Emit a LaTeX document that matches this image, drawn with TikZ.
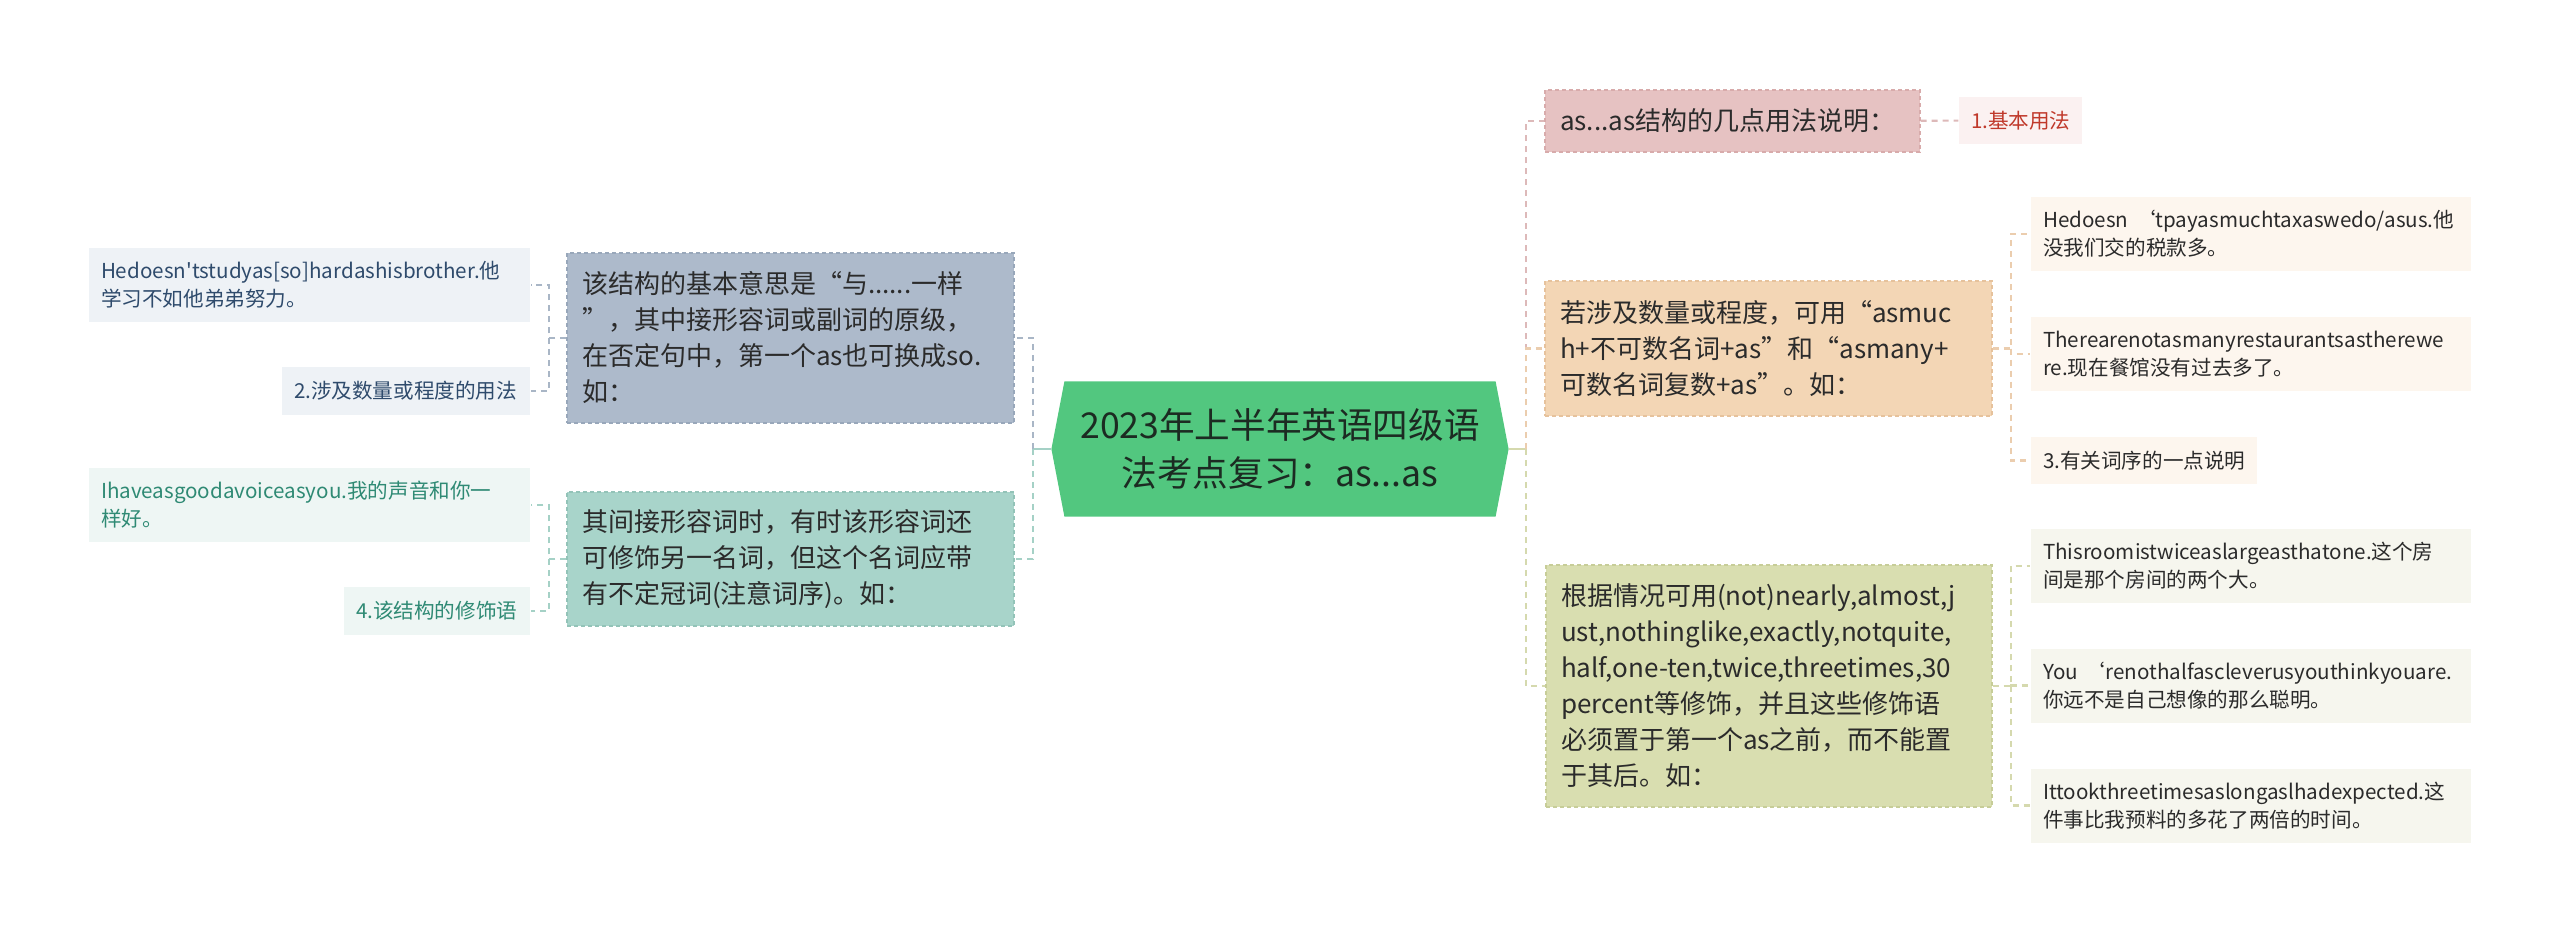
\documentclass[tikz,border=0pt]{standalone}
\usepackage{fontspec}
\setmainfont{Noto Sans CJK SC}[Ligatures=TeXOff]
\usepackage{xcolor}
\usepackage{tikz}
\usetikzlibrary{shapes,backgrounds}
\usetikzlibrary{arrows,positioning,calc}

\definecolor{topicfill}{HTML}{52C77F}
\definecolor{topictext}{HTML}{1C2B22}
\definecolor{bodytext}{HTML}{2B2B2B}
\definecolor{fillA}{HTML}{ADBACB}
\definecolor{edgeA}{HTML}{98A7BA}
\definecolor{fillB}{HTML}{A8D4CA}
\definecolor{edgeB}{HTML}{93C3B8}
\definecolor{fillC}{HTML}{E6C2C2}
\definecolor{edgeC}{HTML}{D8ABAB}
\definecolor{fillD}{HTML}{F3D6B5}
\definecolor{edgeD}{HTML}{E6C29C}
\definecolor{fillE}{HTML}{D9DEB0}
\definecolor{edgeE}{HTML}{C7CD98}
\definecolor{leafA}{HTML}{EEF2F6}
\definecolor{leafAtext}{HTML}{2F4B6C}
\definecolor{leafB}{HTML}{EEF6F4}
\definecolor{leafBtext}{HTML}{2F8A74}
\definecolor{leafC}{HTML}{FBF1F1}
\definecolor{leafCtext}{HTML}{C0392B}
\definecolor{leafD}{HTML}{FDF6EE}
\definecolor{leafE}{HTML}{F6F6EE}
\definecolor{lineA}{HTML}{A9B6C6}
\definecolor{lineB}{HTML}{A5D1C6}
\definecolor{lineC}{HTML}{DDB9B9}
\definecolor{lineD}{HTML}{EBCDAE}
\definecolor{lineE}{HTML}{D5D9AE}

\begin{document}
\begin{tikzpicture}[x=0.5pt,y=-0.5pt,semithick]

\tikzstyle{topic}=[rectangle, minimum width=215pt, minimum height=67pt, align=center,
text=topictext, font=\fontsize{17.8}{24}\selectfont]
\tikzstyle{branch}=[rectangle, align=left, inner xsep=7.5pt, text=bodytext,
dash pattern=on 2pt off 1.5pt, line width=0.6pt, font=\fontsize{13}{18}\selectfont]
\tikzstyle{leaf}=[rectangle, align=left, inner xsep=6pt, minimum height=37pt, text=bodytext,
font=\fontsize{10.3}{14}\selectfont]
\tikzstyle{link}=[dash pattern=on 3pt off 2.5pt, line width=1.1pt]

\useasboundingbox (0,0) rectangle (2560,933);

%centre
\node[topic]
(root) at (1280,449)
{2023年上半年英语四级语\\法考点复习：as...as};

\begin{scope}[on background layer]
\fill[topicfill] (root.north west) -- (root.north east) -- ($(root.east)+(13,0)$)
 -- (root.south east) -- (root.south west) -- ($(root.west)+(-13,0)$) -- cycle;
\end{scope}

\coordinate (lbus) at (1033,0);
\coordinate (rbus) at (1526,0);
\coordinate (lbus2) at (549,0);
\coordinate (rbus2) at (2011,0);

%left side
\node[branch,fill=fillA,draw=edgeA,text width=208.5pt,minimum height=85pt]
(lone) at (790.5,338)
{该结构的基本意思是“与......一样\\”，其中接形容词或副词的原级，\\在否定句中，第一个as也可换成so.\\如：};

\node[branch,fill=fillB,draw=edgeB,text width=208.5pt,minimum height=67pt]
(ltwo) at (790.5,559)
{其间接形容词时，有时该形容词还\\可修饰另一名词，但这个名词应带\\有不定冠词(注意词序)。如：};

\node[leaf,fill=leafA,text=leafAtext,text width=208.5pt]
(loneA) at (309.5,285)
{Hedoesn'tstudyas[so]hardashisbrother.他\\学习不如他弟弟努力。};

\node[leaf,fill=leafA,text=leafAtext,text width=112pt,minimum height=24pt]
(loneB) at (406,391)
{2.涉及数量或程度的用法};

\node[leaf,fill=leafB,text=leafBtext,text width=208.5pt]
(ltwoA) at (309.5,505)
{Ihaveasgoodavoiceasyou.我的声音和你一\\样好。};

\node[leaf,fill=leafB,text=leafBtext,text width=81pt,minimum height=24pt]
(ltwoB) at (437,611)
{4.该结构的修饰语};

%right side
\node[branch,fill=fillC,draw=edgeC,text width=172.5pt,minimum height=31pt]
(rone) at (1732.5,121)
{as...as结构的几点用法说明：};

\node[leaf,fill=leafC,text=leafCtext,text width=49.5pt,minimum height=23.5pt]
(roneA) at (2020.5,120.5)
{1.基本用法};

\node[branch,fill=fillD,draw=edgeD,text width=208.5pt,minimum height=67.5pt]
(rtwo) at (1768.5,348.5)
{若涉及数量或程度，可用“asmuc\\h+不可数名词+as”和“asmany+\\可数名词复数+as”。如：};

\node[branch,fill=fillE,draw=edgeE,text width=208pt,minimum height=121pt]
(rthree) at (1769,686)
{根据情况可用(not)nearly,almost,j\\ust,nothinglike,exactly,notquite,\\half,one-ten,twice,threetimes,30\\percent等修饰，并且这些修饰语\\必须置于第一个as之前，而不能置\\于其后。如：};

\node[leaf,fill=leafD,text width=208pt]
(rtwoA) at (2251,234)
{Hedoesn ‘tpayasmuchtaxaswedo/asus.他\\没我们交的税款多。};

\node[leaf,fill=leafD,text width=208pt]
(rtwoB) at (2251,354)
{Therearenotasmanyrestaurantsastherewe\\re.现在餐馆没有过去多了。};

\node[leaf,fill=leafD,text width=101pt,minimum height=23.5pt]
(rtwoC) at (2144,460.5)
{3.有关词序的一点说明};

\node[leaf,fill=leafE,text width=208pt]
(rthreeA) at (2251,566)
{Thisroomistwiceaslargeasthatone.这个房\\间是那个房间的两个大。};

\node[leaf,fill=leafE,text width=208pt]
(rthreeB) at (2251,685.5)
{You ‘renothalfascleverusyouthinkyouare.\\你远不是自己想像的那么聪明。};

\node[leaf,fill=leafE,text width=208pt]
(rthreeC) at (2251,805.5)
{Ittookthreetimesaslongaslhadexpected.这\\件事比我预料的多花了两倍的时间。};

%connectors
\draw[lineB,line width=1.1pt] ($(root.west)+(-13,0)$) -- (lbus |- root.west);
\draw[lineE,line width=1.1pt] ($(root.east)+(13,0)$) -- (rbus |- root.east);

\draw[link,lineA] (lbus |- root.west) |- (lone.east);
\draw[link,lineB] (lbus |- root.west) |- (ltwo.east);
\draw[link,lineA] (lone.west) -- (lone.west -| lbus2) |- (loneA.east);
\draw[link,lineA] (lone.west -| lbus2) |- (loneB.east);
\draw[link,lineB] (ltwo.west) -- (ltwo.west -| lbus2) |- (ltwoA.east);
\draw[link,lineB] (ltwo.west -| lbus2) |- (ltwoB.east);

\draw[link,lineC] (rbus |- root.east) |- (rone.west);
\draw[link,lineD] (rbus |- root.east) |- (rtwo.west);
\draw[link,lineE] (rbus |- root.east) |- (rthree.west);
\draw[link,lineC] (rone) -- (roneA);
\draw[link,lineD] (rtwo.east) -- (rtwo.east -| rbus2) |- (rtwoA.west);
\draw[link,lineD] (rtwo.east -| rbus2) |- (rtwoB.west);
\draw[link,lineD] (rtwo.east -| rbus2) |- (rtwoC.west);
\draw[link,lineE] (rthree.east) -- (rthree.east -| rbus2) |- (rthreeA.west);
\draw[link,lineE] (rthree.east -| rbus2) |- (rthreeB.west);
\draw[link,lineE] (rthree.east -| rbus2) |- (rthreeC.west);

\end{tikzpicture}
\end{document}
